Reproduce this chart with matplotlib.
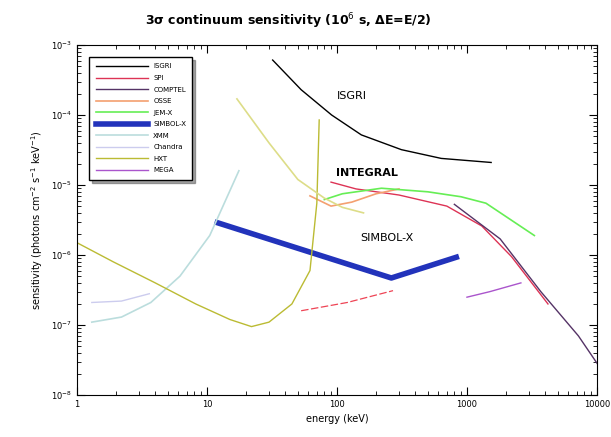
import numpy as np
import matplotlib
matplotlib.use("Agg")
import matplotlib.pyplot as plt

# ---- data (energy in keV, sensitivity in photons cm^-2 s^-1 keV^-1) ----
isgri_e = [32, 53, 91, 154, 313, 634, 1535]
isgri_s = [6.1e-4, 2.3e-4, 1.0e-4, 5.2e-5, 3.2e-5, 2.4e-5, 2.1e-5]

spi_e = [90, 140, 300, 700, 1300, 2200, 4200]
spi_s = [1.1e-5, 8.8e-6, 7.2e-6, 5.0e-6, 2.6e-6, 9.5e-7, 2.0e-7]

compton_e = [800, 1800, 3700, 7200, 10500]
compton_s = [5.3e-6, 1.7e-6, 3.0e-7, 7.0e-8, 2.5e-8]

osse_e = [62, 90, 130, 200, 300]
osse_s = [7.0e-6, 5.0e-6, 5.7e-6, 7.5e-6, 8.8e-6]

jemx_e = [80, 110, 220, 500, 900, 1400, 3300]
jemx_s = [6.2e-6, 7.5e-6, 9.0e-6, 8.0e-6, 6.8e-6, 5.5e-6, 1.9e-6]

simbx_e = [12, 262, 828]
simbx_s = [2.9e-6, 4.7e-7, 9.3e-7]

soft1_e = [1.3, 2.2, 3.7, 6.2, 10.5, 17.6]
soft1_s = [1.1e-7, 1.3e-7, 2.1e-7, 5.0e-7, 1.9e-6, 1.6e-5]

soft2_e = [1.3, 2.2, 3.6]
soft2_s = [2.1e-7, 2.2e-7, 2.8e-7]

batse_e = [17, 30, 50, 80, 110, 160]
batse_s = [1.7e-4, 4.0e-5, 1.2e-5, 6.5e-6, 4.8e-6, 4.0e-6]

hard_e = [1, 1.9, 4.0, 8.2, 15, 22, 30, 45, 62, 70, 73]
hard_s = [1.5e-6, 8.0e-7, 4.0e-7, 2.0e-7, 1.2e-7, 9.5e-8, 1.1e-7, 2.0e-7, 6.0e-7, 5.5e-6, 8.5e-5]

nust_e = [53, 120, 270]
nust_s = [1.6e-7, 2.1e-7, 3.1e-7]

mega_e = [1000, 1500, 2600]
mega_s = [2.5e-7, 3.0e-7, 4.0e-7]

legend_names = ["ISGRI", "SPI", "COMPTEL", "OSSE", "JEM-X", "SIMBOL-X",
                "XMM", "Chandra", "HXT", "MEGA"]
colors = ["#000000", "#ff44cc", "#553366", "#f4a070", "#66ee55", "#2233bb",
          "#bbdddd", "#ccccee", "#bbbb33", "#aa55cc"]

fig = plt.figure(figsize=(6.11, 4.37), dpi=100)
ax = fig.add_axes([0.126, 0.096, 0.851, 0.801])

h = []
h += ax.plot(isgri_e, isgri_s, color=colors[0], lw=1.0)
h += ax.plot(spi_e, spi_s, color="#dd3355", lw=1.0)
h += ax.plot(compton_e, compton_s, color=colors[2], lw=1.0)
h += ax.plot(osse_e, osse_s, color=colors[3], lw=1.2)
h += ax.plot(jemx_e, jemx_s, color=colors[4], lw=1.2)
h += ax.plot(simbx_e, simbx_s, color=colors[5], lw=4.0)
h += ax.plot(soft1_e, soft1_s, color=colors[6], lw=1.2)
h += ax.plot(soft2_e, soft2_s, color=colors[7], lw=1.0)
h += ax.plot(hard_e, hard_s, color=colors[8], lw=1.0)
h += ax.plot(mega_e, mega_s, color=colors[9], lw=1.0)
ax.plot(batse_e, batse_s, color="#dddd88", lw=1.2)
ax.plot(nust_e, nust_s, color="#ee4455", lw=0.9, ls=(0, (6, 2)))

ax.set_xscale("log")
ax.set_yscale("log")
ax.set_xlim(1, 10000)
ax.set_ylim(1e-8, 1e-3)

ax.tick_params(which="both", direction="in", top=True, right=True, labelsize=6)
ax.tick_params(which="major", length=6)
ax.tick_params(which="minor", length=3)
ax.set_xticks([1, 10, 100, 1000, 10000])
ax.set_xticklabels(["1", "10", "100", "1000", "10000"])

fig.text(0.471, 0.952, "3σ continuum sensitivity (10$^6$ s, ΔE=E/2)",
         fontsize=9, fontweight="bold", ha="center", va="center")
ax.set_xlabel("energy (keV)", fontsize=7)
ax.set_ylabel("sensitivity (photons cm$^{-2}$ s$^{-1}$ keV$^{-1}$)", fontsize=7)

ax.text(130, 1.9e-4, "ISGRI", fontsize=8, ha="center", va="center")
ax.text(170, 1.5e-5, "INTEGRAL", fontsize=8, ha="center", va="center", fontweight="bold")
ax.text(240, 1.75e-6, "SIMBOL-X", fontsize=8, ha="center", va="center")

leg = ax.legend(h, legend_names, loc="upper left", fontsize=5, frameon=True,
                fancybox=False, edgecolor="black", handlelength=7.5,
                labelspacing=0.8, borderpad=0.9, shadow=True,
                bbox_to_anchor=(0.017, 0.975))
leg.get_frame().set_linewidth(1.0)

fig.savefig("out.png", dpi=100)
